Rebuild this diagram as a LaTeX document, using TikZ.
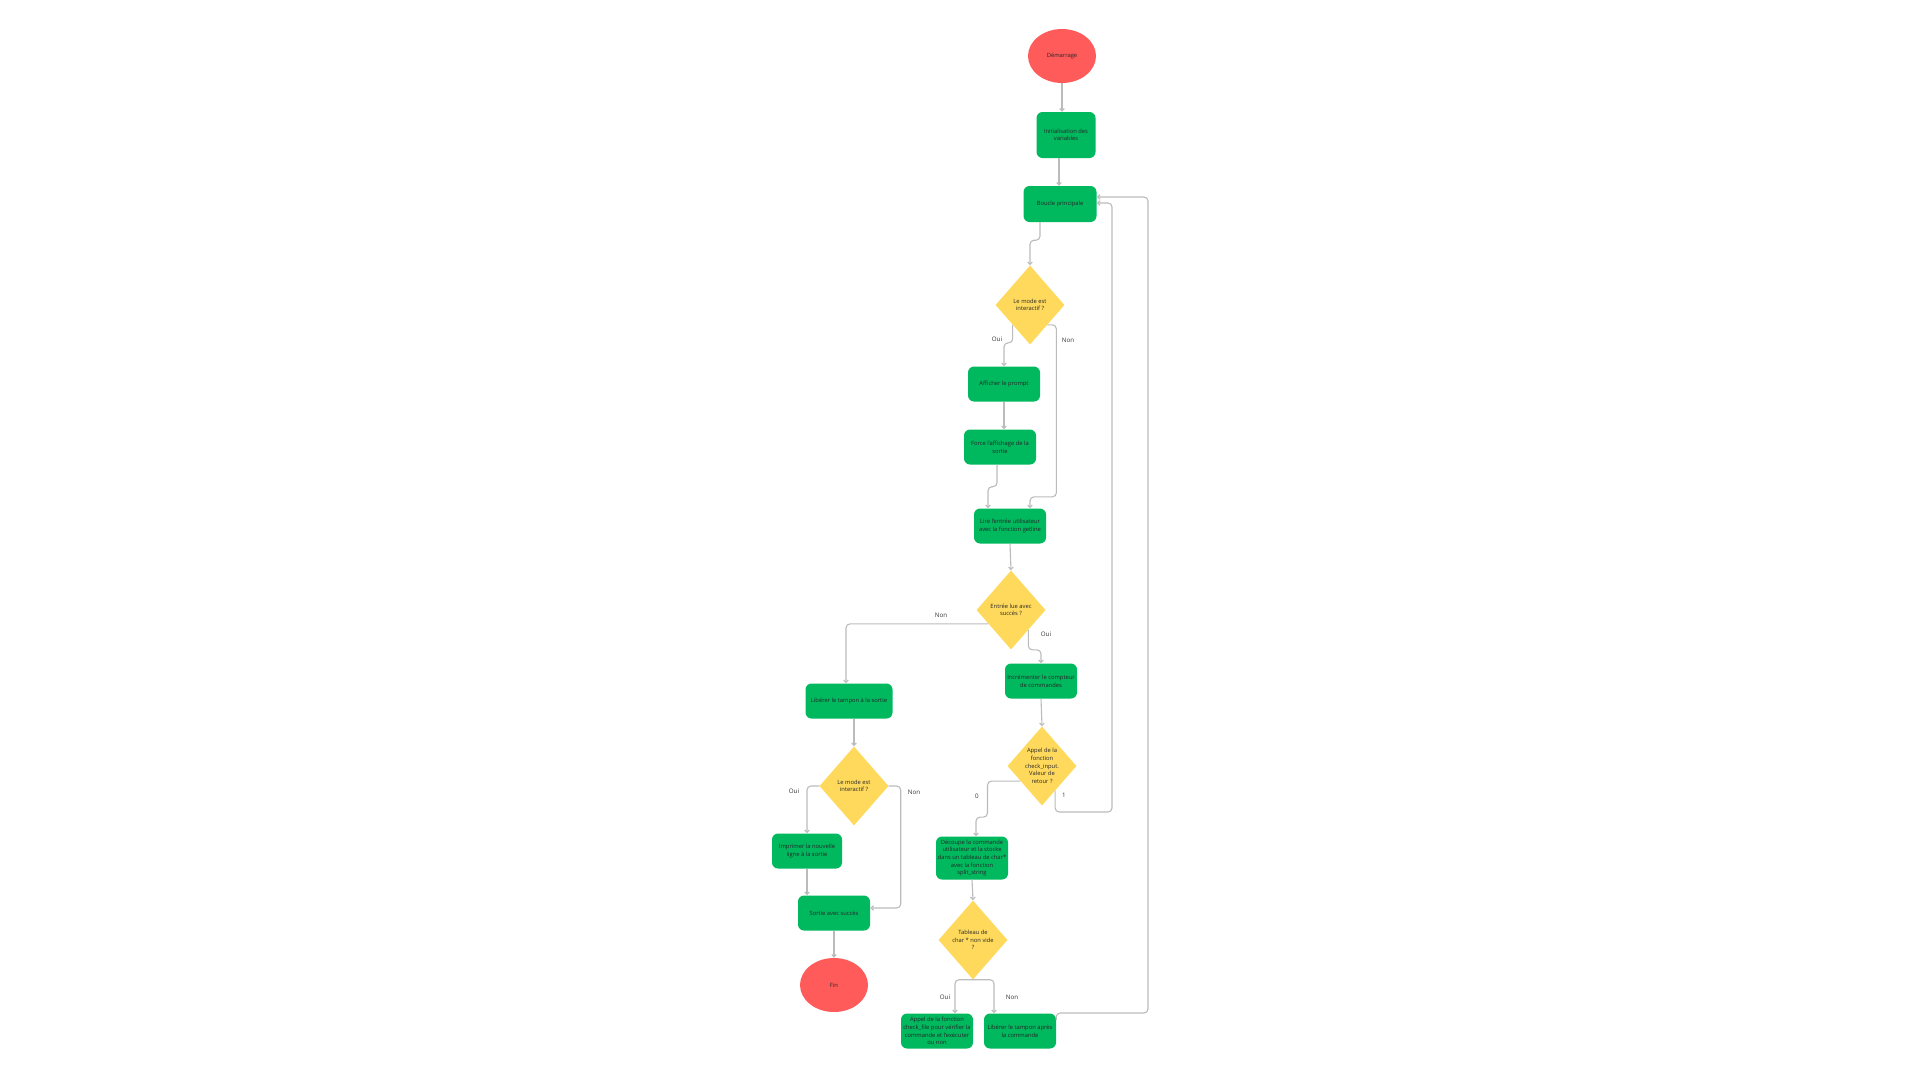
\documentclass[tikz,border=0pt]{standalone}
\usepackage{fontspec}
\setmainfont{Open Sans}
\usetikzlibrary{shapes.geometric,arrows.meta,calc}
\definecolor{termred}{HTML}{FF5B5B}
\definecolor{procgreen}{HTML}{00B85E}
\definecolor{decyellow}{HTML}{FFD95C}
\definecolor{linegray}{HTML}{BBBBBB}
\definecolor{lblgray}{HTML}{333333}

\begin{document}
\begin{tikzpicture}[->,>={Straight Barb[length=2.5pt,width=4.5pt]},x=1pt,y=-1pt,
	every node/.style={font=\fontsize{5.8}{7.6}\selectfont, text=black!85},
	term/.style={ellipse, fill=termred, minimum width=68, minimum height=54, inner sep=0},
	proc/.style={rectangle, rounded corners=6, fill=procgreen, minimum width=72, minimum height=35, align=center, inner sep=0.5},
	dec/.style={diamond, fill=decyellow, minimum width=69, minimum height=79, align=center, inner sep=0},
	conn/.style={draw=linegray, line width=1.1, rounded corners=4},
	lbl/.style={text=lblgray, font=\fontsize{6.2}{7}\selectfont}]
					\useasboundingbox (0,0) rectangle (1920,1080);
					
					\node[term] (start) at (1062,56) {Démarrage};
					\node[proc, minimum width=59, minimum height=46] (init) at (1066,135) {Initialisation des\\variables};
					\node[proc, minimum width=73, minimum height=36] (boucle) at (1060,204) {Boucle principale};
					\node[dec] (d1) at (1030,305) {Le mode est\\interactif ?};
					\node[proc] (afficher) at (1004,384) {Afficher le prompt};
					\node[proc] (force) at (1000,447) {Force l'affichage de la\\sortie};
					\node[proc] (lire) at (1010,526) {Lire l'entrée utilisateur\\avec la fonction getline};
					\node[dec] (d2) at (1011,610) {Entrée lue avec\\succès ?};
					\node[proc] (incr) at (1041,681) {Incrémenter le compteur\\de commandes};
					\node[dec] (d3) at (1042,766) {Appel de la\\fonction\\check\_input.\\Valeur de\\retour ?};
					\node[proc, minimum height=43] (decoupe) at (972,858) {Découpe la commande\\utilisateur et la stocke\\dans un tableau de char*\\avec la fonction\\split\_string};
					\node[dec] (d4) at (973,940) {Tableau de\\char * non vide\\?};
					\node[proc] (appel) at (937,1031) {Appel de la fonction\\check\_file pour vérifier la\\commande et l'exécuter\\ou non};
					\node[proc] (libapres) at (1020,1031) {Libérer le tampon après\\la commande};
					
					\node[proc, minimum width=87] (libsort) at (849,701) {Libérer le tampon à la sortie};
					\node[dec] (d5) at (854,786) {Le mode est\\interactif ?};
					\node[proc, minimum width=70] (imprimer) at (807,851) {Imprimer la nouvelle\\ligne à la sortie};
					\node[proc] (sortie) at (834,913) {Sortie avec succès};
					\node[term] (fin) at (834,985) {Fin};
					
					\node[lbl] (oui1) at (997,339) {Oui};
					\node[lbl] (non1) at (1068,340) {Non};
					\node[lbl] (non2) at (941,615) {Non};
					\node[lbl] (oui2) at (1046,634) {Oui};
					\node[lbl] (zero3) at (977,796) {0};
					\node[lbl] (un3) at (1064,795) {1};
					\node[lbl] (oui4) at (945,997) {Oui};
					\node[lbl] (non4) at (1012,997) {Non};
					\node[lbl] (oui5) at (794,791) {Oui};
					\node[lbl] (non5) at (914,792) {Non};
					
					\draw[conn] (start.south) -- (start.south |- init.north);
					\draw[conn] ([xshift=-7]init.south) -- ([xshift=-1]boucle.north);
					\draw[conn] ([xshift=-20]boucle.south) -- ++(0,18) -| (d1.north);
					\draw[conn] (d1.south west) -- ++(0,18) -| (afficher.north);
					\draw[conn] (d1.south east) -- ++(9,0) -- ++(0,172) -| ([xshift=20]lire.north);
					\draw[conn] (afficher.south) -- (afficher.south |- force.north);
					\draw[conn] ([xshift=-3]force.south) -- ++(0,22) -| ([xshift=-22]lire.north);
					\draw[conn] (lire.south) -- (d2.north);
					\draw[conn] ($(d2.west)!0.35!(d2.south)$) -| ([xshift=-3]libsort.north);
					\draw[conn] (d2.south east) -- ++(0,20) -| (incr.north);
					\draw[conn] (incr.south) -- (d3.north);
					\draw[conn] ($(d3.west)!0.38!(d3.south)$) -- ++(-33,0) -- ++(0,36) -| ([xshift=4]decoupe.north);
					\draw[conn] ($(d3.south)!0.38!(d3.east)$) |- (1112,812) |- ([yshift=1]boucle.east);
					\draw[conn] (decoupe.south) -- (d4.north);
					\draw[conn] (d4.south) -| ([xshift=18]appel.north);
					\draw[conn] (d4.south) -| ([xshift=-26]libapres.north);
					\draw[conn] ([yshift=11]libapres.east) |- (1148,1013) |- ([yshift=7]boucle.east);
					
					\draw[conn] ([xshift=5]libsort.south) -- (d5.north);
					\draw[conn] (d5.west) -| (imprimer.north);
					\draw[conn] (d5.east) -- ++(12,0) |- ([yshift=5]sortie.east);
					\draw[conn] (imprimer.south) -- (imprimer.south |- sortie.north);
					\draw[conn] (sortie.south) -- (fin.north);
\end{tikzpicture}
\end{document}
